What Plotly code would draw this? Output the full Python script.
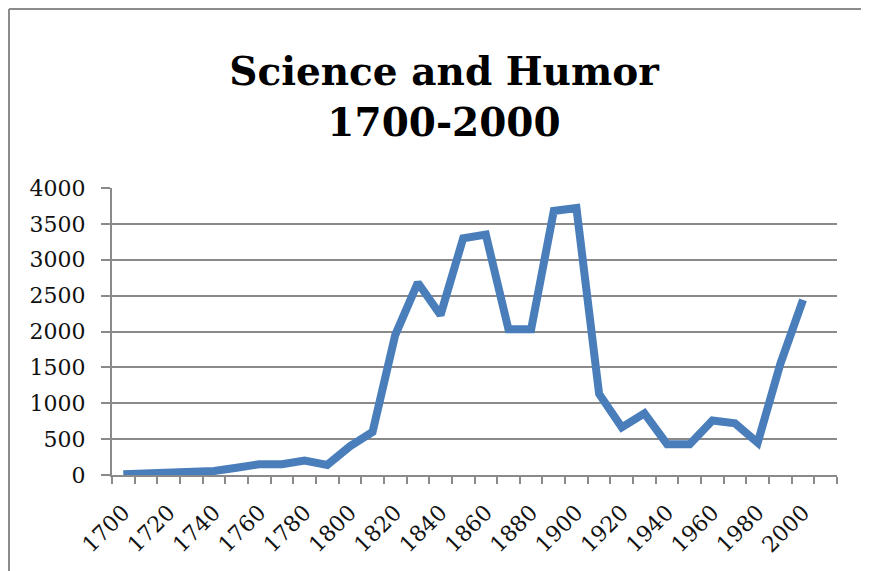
import plotly.graph_objects as go

years = list(range(1700, 2001, 10))
values = [10, 15, 20, 50, 55, 100, 150, 150, 200, 140, 400, 600,
          1950, 2680, 2230, 3300, 3350, 2030, 2030, 3680, 3720,
          1130, 665, 860, 430, 430, 760, 720, 450, 1550, 2440]

y_ticks = list(range(0, 4001, 500))
x_label_years = list(range(1700, 2001, 20))

grid_color = "#8a8a8a"
font_fam = "DejaVu Serif"

fig = go.Figure()
fig.add_trace(go.Scatter(
    x=years, y=values, mode="lines",
    line=dict(color="#4a7ebb", width=8, shape="linear"),
    hoverinfo="x+y", showlegend=False,
))

# page has an 8px body margin; lay out in page pixels and subtract it
OFF = 8
W, H = 869 - OFF, 571 - OFF
ml, mt = 112 - OFF, 188 - OFF
pr, pb = 837 - OFF, 475 - OFF   # plot right / bottom in figure px
mr, mb = W - pr, H - pb
pw = pr - ml
ph = pb - mt

def px_x(px):
    return (px - OFF - ml) / pw

def px_y(py):
    return (pb - (py - OFF)) / ph

border = dict(color="#8c8c8c", width=2)
fig.add_shape(type="line", xref="paper", yref="paper",
              x0=px_x(9), x1=px_x(875),
              y0=px_y(9), y1=px_y(9), line=border)
fig.add_shape(type="line", xref="paper", yref="paper",
              x0=px_x(9), x1=px_x(9),
              y0=px_y(9), y1=px_y(580), line=border)

fig.update_layout(
    width=W, height=H,
    margin=dict(l=ml, r=mr, t=mt, b=mb, pad=0),
    paper_bgcolor="white", plot_bgcolor="white",
    title=dict(
        text="Science and Humor<br>1700-2000",
        font=dict(family=font_fam, size=39, color="black", weight="bold"),
        x=(444 - OFF) / W, xanchor="center", xref="container",
        y=1 - 77 / H, yanchor="top", yref="container",
    ),
    xaxis=dict(
        range=[1695, 2015], tickmode="array", tickvals=x_label_years,
        ticktext=[str(v) for v in x_label_years],
        tickangle=-45, ticks="", showgrid=False, zeroline=False,
        showline=True, linecolor=grid_color, linewidth=2,
        ticklabelstandoff=14,
        tickfont=dict(family=font_fam, size=22, color="#111111"),
        minor=dict(tick0=1695, dtick=10, ticks="outside", ticklen=7,
                   tickcolor=grid_color, tickwidth=2, showgrid=False),
    ),
    yaxis=dict(
        range=[0, 4000], tickmode="array", tickvals=y_ticks,
        ticks="outside", ticklen=9, tickcolor=grid_color, tickwidth=2,
        showgrid=True, gridcolor=grid_color, gridwidth=2, zeroline=False,
        showline=True, linecolor=grid_color, linewidth=2,
        ticklabelstandoff=11,
        tickfont=dict(family=font_fam, size=22, color="#111111"),
    ),
)

fig.write_html("out.html")
